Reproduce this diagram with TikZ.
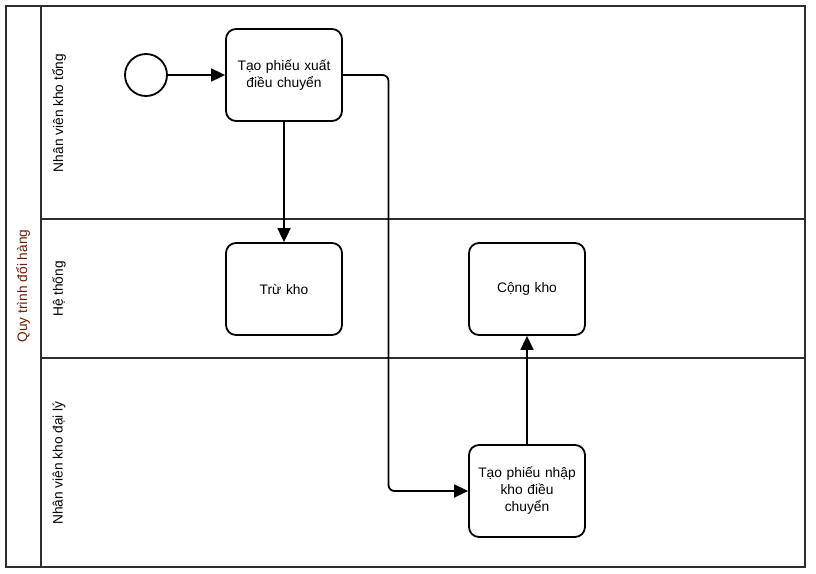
\documentclass[tikz,border=0pt]{standalone}
\usepackage{fontspec}
\setmainfont{Liberation Sans}
\usetikzlibrary{arrows.meta}
\definecolor{poolred}{RGB}{110,30,5}
\tikzset{
  task/.style={draw,line width=1.8pt,rounded corners=10pt,minimum width=116pt,minimum height=92pt,
    inner sep=0,align=center,text width=108pt,font=\fontsize{13.8}{17}\selectfont},
  flow/.style={line width=1.8pt,-{Triangle[length=14pt,width=13pt]}},
  lanelbl/.style={rotate=90,font=\fontsize{13.7}{16}\selectfont}
}
\begin{document}
\begin{tikzpicture}[x=1pt,y=-1pt]
\useasboundingbox(0,0)rectangle(816,573);
\coordinate(P1)at(6,6);
\coordinate(P2)at(805,567);
% pool and lanes
\begin{scope}[line width=1.8pt,draw={rgb,255:red,45;green,45;blue,50}]
\draw(P1)rectangle(P2);
\draw(41,6)--(41,567);
\draw(41,219)--(805,219);
\draw(41,358)--(805,358);
\end{scope}
\node[lanelbl,text=poolred](pool)at(23,286){Quy trình đổi hàng};
\node[lanelbl](lane1)at(59,113){Nhân viên kho tổng};
\node[lanelbl](lane2)at(59,289){Hệ thống};
\node[lanelbl](lane3)at(59,463){Nhân viên kho đại lý};
% events and tasks
\node[draw,circle,line width=1.8pt,minimum size=42pt,inner sep=0](start)at(146,75){};
\node[task](xuat)at(284,75){Tạo phiếu xuất\\điều chuyển};
\node[task](tru)at(284,289){Trừ kho};
\node[task](cong)at(527,289){Cộng kho};
\node[task](nhap)at(527,491){Tạo phiếu nhập\\kho điều\\chuyển};
% flows
\draw[flow](start)--(xuat);
\draw[flow](xuat)--(tru);
\draw[flow,rounded corners=6pt](xuat.east)-|(388.5,420)|-(nhap.west);
\draw[flow](nhap)--(cong);
\end{tikzpicture}
\end{document}
